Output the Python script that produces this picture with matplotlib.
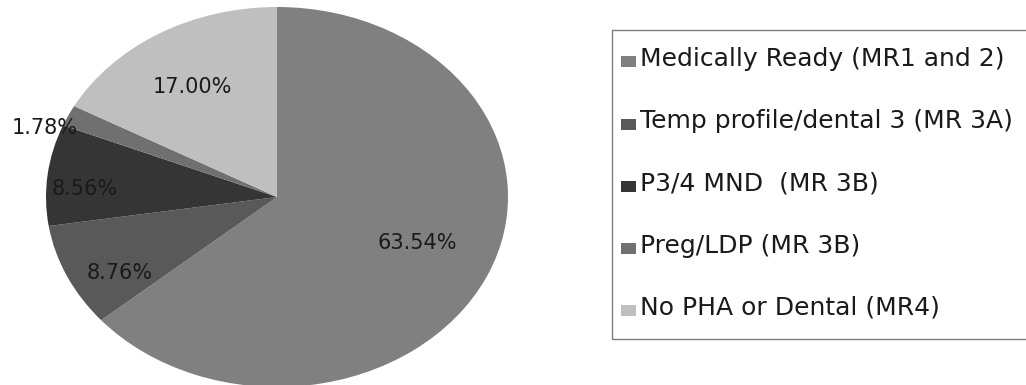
import matplotlib
matplotlib.use("Agg")
import matplotlib.pyplot as plt
from matplotlib.lines import Line2D
from matplotlib.patches import Rectangle
import numpy as np

categories = ["Medically Ready (MR1 and 2)",
              "Temp profile/dental 3 (MR 3A)",
              "P3/4 MND  (MR 3B)",
              "Preg/LDP (MR 3B)",
              "No PHA or Dental (MR4)"]
values = [63.54, 8.76, 8.56, 1.78, 17.00]
pct_labels = ["63.54%", "8.76%", "8.56%", "1.78%", "17.00%"]

colors = ["#808080", "#595959", "#353535", "#707070", "#bfbfbf"]
# label placement (style): radial distance and angular shift in degrees
label_r = [0.653, 0.789, 0.832, 1.07, 0.686]
label_dang = [3.0, 5.9, 3.8, 5.4, 1.7]

plt.rcParams['font.family'] = ['DejaVu Sans']

W, H = 1026, 385
fig = plt.figure(figsize=(W/100, H/100), dpi=100)

# pie axes (elliptical pie, as in the reference)
left, right, top, bottom = 46, 508, 7, 387
ax = fig.add_axes([left/W, (H-bottom)/H, (right-left)/W, (bottom-top)/H])
wedges, texts = ax.pie(values, colors=colors, startangle=90, counterclock=False,
                       labels=pct_labels, labeldistance=1.0,
                       wedgeprops=dict(linewidth=0),
                       textprops=dict(fontsize=15, color="#1a1a1a"))
ax.set_aspect('auto')
ax.set_xlim(-1, 1)
ax.set_ylim(-1, 1)
ax.axis('off')

for w, t, r, da in zip(wedges, texts, label_r, label_dang):
    ang = np.deg2rad((w.theta1 + w.theta2) / 2 + da)
    t.set_position((r*np.cos(ang), r*np.sin(ang)))
    t.set_ha('center')
    t.set_va('center')

# legend markers: 15x11 px rectangles, sitting on the text baseline
rect = [(-7.5, -9.5), (7.5, -9.5), (7.5, 1.5), (-7.5, 1.5), (-7.5, -9.5)]
handles = [Line2D([], [], linestyle='none', marker=rect, markersize=13.68,
                  markerfacecolor=c, markeredgewidth=0) for c in colors]

leg = fig.legend(handles, categories, loc='upper left',
                 bbox_to_anchor=(620/W, (H-47)/H),
                 fontsize=18, frameon=False, borderpad=0, labelspacing=1.53,
                 handlelength=0.64, handleheight=0.7, handletextpad=0.16,
                 borderaxespad=0)
for t in leg.get_texts():
    t.set_color("#1a1a1a")

# legend frame (extends past the right edge, as in the reference)
fx0, fy0, fx1, fy1 = 612, 30, 1040, 339
fig.add_artist(Rectangle((fx0/W, (H-fy1)/H), (fx1-fx0)/W, (fy1-fy0)/H,
                         transform=fig.transFigure, fill=False,
                         edgecolor="#7f7f7f", linewidth=1.0))

fig.savefig("out.png", dpi=100)
